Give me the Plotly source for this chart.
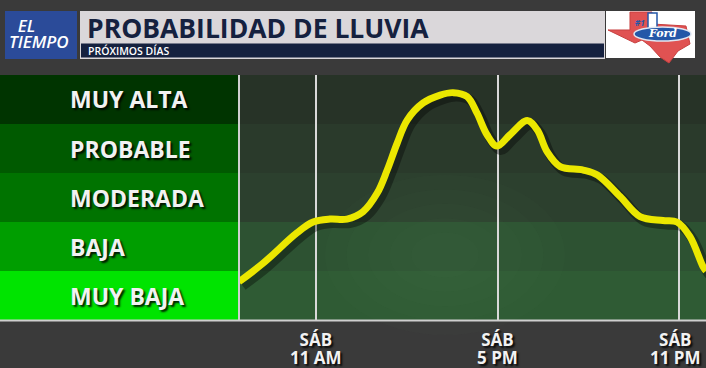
import plotly.graph_objects as go

# ---------------- data ----------------
categories = ["MUY BAJA", "BAJA", "MODERADA", "PROBABLE", "MUY ALTA"]
panel_colors = ["#00e400", "#009e00", "#007300", "#005a00", "#003400"]
plot_band_colors = ["#2f5b34", "#2d5232", "#2c402e", "#2a3a2b", "#273327"]

hours = [8.45, 9.25, 10.37, 10.9, 11.46, 12.02, 12.55, 13.02, 13.35, 13.68, 14.01,
         14.54, 15.1, 15.53, 15.99, 16.32, 16.65, 16.98, 17.41, 17.98, 18.31,
         18.64, 19.07, 19.83, 20.3, 21.05, 21.71, 22.47, 22.93, 23.36, 23.79, 23.89]
rain_level = [0.78, 1.16, 1.78, 2.0, 2.06, 2.06, 2.21, 2.59, 3.06, 3.61, 4.08,
              4.43, 4.59, 4.64, 4.56, 4.22, 3.78, 3.55, 3.78, 4.07, 3.88,
              3.43, 3.13, 3.06, 2.96, 2.52, 2.11, 2.03, 2.0, 1.70, 1.09, 1.0]

tick_hours = [11, 17, 23]
tick_days = ["SÁB", "SÁB", "SÁB"]
tick_times = ["11 AM", "5 PM", "11 PM"]

title = "PROBABILIDAD DE LLUVIA"
subtitle = "PRÓXIMOS DÍAS"

W, H = 706, 368
def px(x):
    return x / W
def py(y):
    return 1 - y / H

FONT = "Open Sans"
SHADOW = "2px 2px 2px rgba(0,0,0,0.85)"

fig = go.Figure()

# curve shadow + curve
fig.add_trace(go.Scatter(
    x=[h + 0.12 for h in hours], y=[v - 0.08 for v in rain_level],
    mode="lines", line=dict(color="rgba(0,0,0,0.35)", width=10, shape="spline", smoothing=1.0),
    hoverinfo="skip", showlegend=False))
fig.add_trace(go.Scatter(
    x=hours, y=rain_level, mode="lines",
    line=dict(color="#ebe700", width=7, shape="spline", smoothing=1.0),
    showlegend=False))

shapes = []
for i, cat in enumerate(categories):
    shapes.append(dict(type="rect", xref="x domain", yref="y", x0=0, x1=1, y0=i, y1=i + 1,
                       fillcolor=plot_band_colors[i], line=dict(width=0), layer="below"))
    shapes.append(dict(type="rect", xref="paper", yref="y", x0=0, x1=px(238), y0=i, y1=i + 1,
                       fillcolor=panel_colors[i], line=dict(width=0), layer="below"))

# soft lighter glow in the middle of the plot area (concentric, very faint)
for k in range(5):
    r = 1 - k * 0.18
    cx, cy, rx, ry = 445, 255, 120 * r, 80 * r
    shapes.append(dict(type="circle", xref="paper", yref="paper", x0=px(cx - rx), x1=px(cx + rx),
                       y0=py(cy + ry), y1=py(cy - ry), fillcolor="rgba(130,180,130,0.025)",
                       line=dict(width=0), layer="below"))

# separator lines
shapes.append(dict(type="line", xref="paper", yref="paper", x0=px(239), x1=px(239),
                   y0=py(320), y1=py(75), line=dict(color="#d0d0d0", width=2)))
shapes.append(dict(type="line", xref="paper", yref="paper", x0=0, x1=1,
                   y0=py(320.5), y1=py(320.5), line=dict(color="#cfcfcf", width=2)))

# header: El Tiempo box
shapes.append(dict(type="rect", xref="paper", yref="paper", x0=px(5), x1=px(77),
                   y0=py(59), y1=py(11), fillcolor="#2b4b99", line=dict(width=0)))
# title box
shapes.append(dict(type="rect", xref="paper", yref="paper", x0=px(80), x1=px(605),
                   y0=py(59), y1=py(11), fillcolor="#dad7da", line=dict(width=0)))
shapes.append(dict(type="rect", xref="paper", yref="paper", x0=px(81), x1=px(604),
                   y0=py(57.5), y1=py(43.5), fillcolor="#15213f", line=dict(width=0)))
# logo box
shapes.append(dict(type="rect", xref="paper", yref="paper", x0=px(606), x1=px(695),
                   y0=py(58), y1=py(11), fillcolor="#ffffff", line=dict(width=0)))
tx = [(630, 12), (652, 12), (652, 24), (686, 26), (690, 44), (678, 51), (669, 63),
      (660, 57), (650, 46), (642, 40), (635, 43), (608, 30), (630, 30)]
path = "M " + " L ".join(f"{px(a):.5f},{py(b):.5f}" for a, b in tx) + " Z"
shapes.append(dict(type="path", xref="paper", yref="paper", path=path,
                   fillcolor="#e05252", line=dict(color="#c84040", width=1)))
shapes.append(dict(type="rect", xref="paper", yref="paper", x0=px(648), x1=px(657),
                   y0=py(30), y1=py(13), fillcolor="#ffffff", line=dict(color="#2457a8", width=1.5)))
shapes.append(dict(type="circle", xref="paper", yref="paper", x0=px(634), x1=px(691),
                   y0=py(41), y1=py(27), fillcolor="#2457a8", line=dict(color="#dfe6f2", width=1.5)))

annotations = []
for i, cat in enumerate(categories):
    annotations.append(dict(text=cat, xref="paper", yref="y", x=px(68), y=i + 0.5,
                            xanchor="left", yanchor="middle", showarrow=False,
                            font=dict(family=FONT, size=23, color="#f2f2f2", weight=700, shadow=SHADOW)))
last = max(tick_hours)
for h, d, t in zip(tick_hours, tick_days, tick_times):
    txt = f"<span style='font-size:17px'>{d}</span><br><span style='font-size:17px'>{t}</span>"
    annotations.append(dict(text=txt, xref="x", yref="paper", x=h, y=py(348),
                            xanchor="center", yanchor="middle", showarrow=False,
                            xshift=-4 if h == last else 0,
                            font=dict(family=FONT, size=13.6, color="#f2f2f2", weight=700, shadow=SHADOW)))

annotations += [
    dict(text="<span style='font-size:17px'><i>&nbsp;&nbsp;EL</i></span><br>"
              "<span style='font-size:17px'><i>TIEMPO</i></span>",
         xref="paper", yref="paper", x=px(7), y=py(33), xanchor="left", align="left",
         yanchor="middle", showarrow=False, font=dict(family=FONT, size=12.3, color="white", weight=600)),
    dict(text=title, xref="paper", yref="paper", x=px(85), y=py(28), xanchor="left",
         yanchor="middle", showarrow=False, font=dict(family=FONT, size=26.5, color="#15213f", weight=700)),
    dict(text=subtitle, xref="paper", yref="paper", x=px(86), y=py(51), xanchor="left",
         yanchor="middle", showarrow=False, font=dict(family=FONT, size=10.5, color="white", weight=600)),
    dict(text="<i>Ford</i>", xref="paper", yref="paper", x=px(662), y=py(34), xanchor="center",
         yanchor="middle", showarrow=False, font=dict(family="DejaVu Serif", size=11, color="white", weight=700)),
    dict(text="<i>#1</i>", xref="paper", yref="paper", x=px(640), y=py(22), xanchor="center",
         yanchor="middle", showarrow=False, font=dict(family=FONT, size=8, color="#2457a8", weight=700)),
]

fig.update_layout(
    width=W, height=H, margin=dict(l=0, r=0, t=0, b=0),
    paper_bgcolor="#3a3a3a", plot_bgcolor="#2b3f2d",
    xaxis=dict(domain=[px(239), 1], range=[8.45, 23.89], tickvals=tick_hours,
               showticklabels=False, showgrid=True, gridcolor="#d9d9d9", gridwidth=2,
               zeroline=False, showline=False, fixedrange=True),
    yaxis=dict(domain=[py(320), py(75)], range=[0, 5], showticklabels=False,
               showgrid=False, zeroline=False, showline=False, fixedrange=True),
    shapes=shapes, annotations=annotations, showlegend=False,
)

fig.write_html("out.html")
